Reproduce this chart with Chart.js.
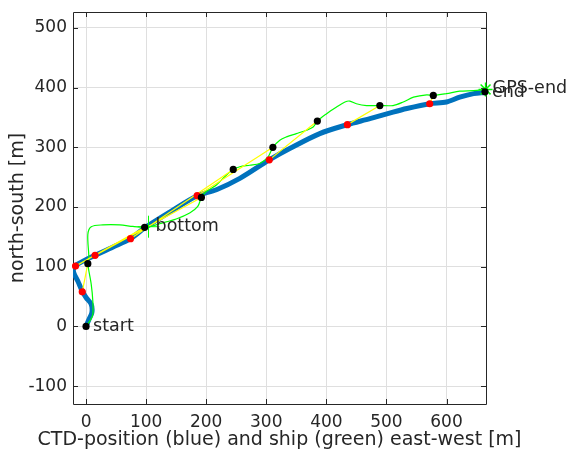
<!DOCTYPE html>
<html><head><meta charset="utf-8">
<script src="https://cdn.jsdelivr.net/npm/chart.js@4/dist/chart.umd.min.js"></script>
<style>html,body{margin:0;padding:0;background:#fff}</style>
</head><body>
<canvas id="c" width="567" height="450"></canvas>
<script>
// CTD track (blue)
const ctdX = [0, 5, 9.7, 8.7, 0.3, -6.3, -13.7, -20.8, -19, -11, 15, 45, 74, 97.5, 140, 185, 217, 256, 305, 339, 389, 435, 472.5, 511, 534, 572, 600, 622, 645, 664];
const ctdY = [0, 12, 23, 37, 48, 59, 76, 91, 101, 106, 119, 133, 147, 165, 192, 219, 229, 248, 279, 298, 323, 338, 348, 359, 365, 373, 376, 384, 390, 392];
// Ship track (green)
const shipX = [0, 8, 11.3, 11.3, 8.7, 3, 4.7, 3, 8.7, 28, 56, 78, 97.5, 106, 122.5, 150, 172.5, 186, 192, 200, 217, 233.7, 245, 256, 272.5, 289, 303, 311, 322.5, 333.7, 350, 367, 378, 385, 400, 417, 431, 439, 450, 467, 489, 511, 528, 545, 567, 578, 600, 622, 645, 665];
const shipY = [0, 12, 20, 42, 70, 105, 115, 154, 167, 170, 170, 167.5, 166, 167, 172, 180, 190, 201, 216, 226, 237, 253.7, 263, 267.5, 270, 273, 284, 300, 312, 317.5, 323, 328.7, 334, 344, 356, 367.5, 376, 377.5, 373, 370, 370, 370, 376, 384, 388, 387, 390, 394, 395, 397];
// CTD positions at sample times (red)
const redX = [-6.3, -17.5, 15, 74, 185, 305, 435, 572];
const redY = [58, 101, 119, 147, 219, 279, 338, 373];
// Ship positions at sample times (black)
const blackX = [0, 3, 97.5, 192, 245, 311, 385, 489, 578, 664];
const blackY = [0, 105, 166, 216, 263, 300, 344, 370, 387, 393];
// Special markers
const bottomX = [104]; const bottomY = [167];
const gpsEndX = [665]; const gpsEndY = [397];
// Text labels
const labelText = ['start', 'bottom', 'end', 'GPS-end'];
const labelX = [0, 104, 664, 665];
const labelY = [0, 167, 392, 398];
// Axes
const xTicks = [0, 100, 200, 300, 400, 500, 600];
const yTicks = [-100, 0, 100, 200, 300, 400, 500];
const xRange = [-21.7, 665.7];
const yRange = [-130, 526.7];
const xTitle = 'CTD-position (blue) and ship (green) east-west [m]';
const yTitle = 'north-south [m]';

const toPts = (xs, ys) => xs.map((x, i) => ({x, y: ys[i]}));
// yellow connectors: red[i] -> black[i+1]
const pairPts = [];
redX.forEach((x, i) => {
  pairPts.push({x, y: redY[i]});
  pairPts.push({x: blackX[i + 1], y: blackY[i + 1]});
  pairPts.push({x: NaN, y: NaN});
});

const TXT = '#262626';
const FONT = 'DejaVu Sans';

const overlay = {
  id: 'overlay',
  beforeDatasetsDraw(chart) {
    const {ctx, chartArea: a, scales: {x, y}} = chart;
    ctx.save();
    ctx.strokeStyle = '#262626';
    ctx.lineWidth = 1;
    ctx.beginPath();
    ctx.rect(Math.round(a.left) + 0.5, Math.round(a.top) + 0.5, Math.round(a.right - a.left), Math.round(a.bottom - a.top));
    ctx.stroke();
    ctx.beginPath();
    const L = 5;
    xTicks.forEach(v => {
      const p = Math.round(x.getPixelForValue(v)) + 0.5;
      ctx.moveTo(p, a.bottom); ctx.lineTo(p, a.bottom - L);
      ctx.moveTo(p, a.top); ctx.lineTo(p, a.top + L);
    });
    yTicks.forEach(v => {
      const p = Math.round(y.getPixelForValue(v)) + 0.5;
      ctx.moveTo(a.left, p); ctx.lineTo(a.left + L, p);
      ctx.moveTo(a.right, p); ctx.lineTo(a.right - L, p);
    });
    ctx.stroke();
    // axis titles
    ctx.fillStyle = TXT;
    ctx.font = '19px "' + FONT + '"';
    ctx.textAlign = 'center';
    ctx.textBaseline = 'middle';
    ctx.fillText(xTitle, (a.left + a.right) / 2, 440);
    ctx.translate(18, (a.top + a.bottom) / 2);
    ctx.rotate(-Math.PI / 2);
    ctx.fillText(yTitle, 0, 0);
    ctx.restore();
  },
  afterDatasetsDraw(chart) {
    const {ctx, scales: {x, y}} = chart;
    ctx.save();
    ctx.fillStyle = TXT;
    ctx.font = '17.5px "' + FONT + '"';
    ctx.textAlign = 'left';
    ctx.textBaseline = 'middle';
    labelText.forEach((t, i) => {
      ctx.fillText(t, x.getPixelForValue(labelX[i]) + 7, y.getPixelForValue(labelY[i]));
    });
    ctx.restore();
  }
};

new Chart(document.getElementById('c'), {
  type: 'scatter',
  data: {
    datasets: [
      {data: toPts(blackX, blackY), showLine: false, pointRadius: 3.6, pointBackgroundColor: '#000', pointBorderWidth: 0, clip: false},
      {data: toPts(redX, redY), showLine: false, pointRadius: 3.6, pointBackgroundColor: '#ff0000', pointBorderWidth: 0, clip: false},
      {data: toPts(gpsEndX, gpsEndY), showLine: false, pointStyle: 'star', pointRadius: 7, pointBorderColor: '#00ff00', pointBorderWidth: 1.5, pointBackgroundColor: '#00ff00', clip: false},
      {data: toPts(bottomX, bottomY), showLine: false, pointStyle: 'cross', pointRadius: 11, pointBorderColor: '#00ff00', pointBorderWidth: 1, clip: false},
      {data: pairPts, showLine: true, spanGaps: false, borderColor: '#ffff00', borderWidth: 1.2, pointRadius: 0},
      {data: toPts(shipX, shipY), showLine: true, borderColor: '#00ff00', borderWidth: 1.2, pointRadius: 0, tension: 0.3},
      {data: toPts(ctdX, ctdY), showLine: true, borderColor: '#0072bd', borderWidth: 5, pointRadius: 0, tension: 0.3, borderCapStyle: 'round', borderJoinStyle: 'round'}
    ]
  },
  options: {
    responsive: false,
    animation: false,
    devicePixelRatio: 1,
    layout: {padding: {left: 0, top: 10, right: 81, bottom: 0}},
    plugins: {legend: {display: false}, tooltip: {enabled: false}},
    scales: {
      x: {
        type: 'linear', min: xRange[0], max: xRange[1],
        afterBuildTicks: s => { s.ticks = xTicks.map(v => ({value: v})); },
        afterFit: s => { s.height = 46; s.paddingLeft = 0; s.paddingRight = 0; },
        grid: {color: '#dfdfdf', drawTicks: false},
        border: {display: false},
        ticks: {color: TXT, font: {family: FONT, size: 17}, padding: 8, maxRotation: 0},
        title: {display: false}
      },
      y: {
        type: 'linear', min: yRange[0], max: yRange[1],
        afterBuildTicks: s => { s.ticks = yTicks.map(v => ({value: v})); },
        afterFit: s => { s.width = 73; s.paddingTop = 0; s.paddingBottom = 0; },
        grid: {color: '#dfdfdf', drawTicks: false},
        border: {display: false},
        ticks: {color: TXT, font: {family: FONT, size: 17}, padding: 6},
        title: {display: false}
      }
    }
  },
  plugins: [overlay]
});
</script>
</body></html>
